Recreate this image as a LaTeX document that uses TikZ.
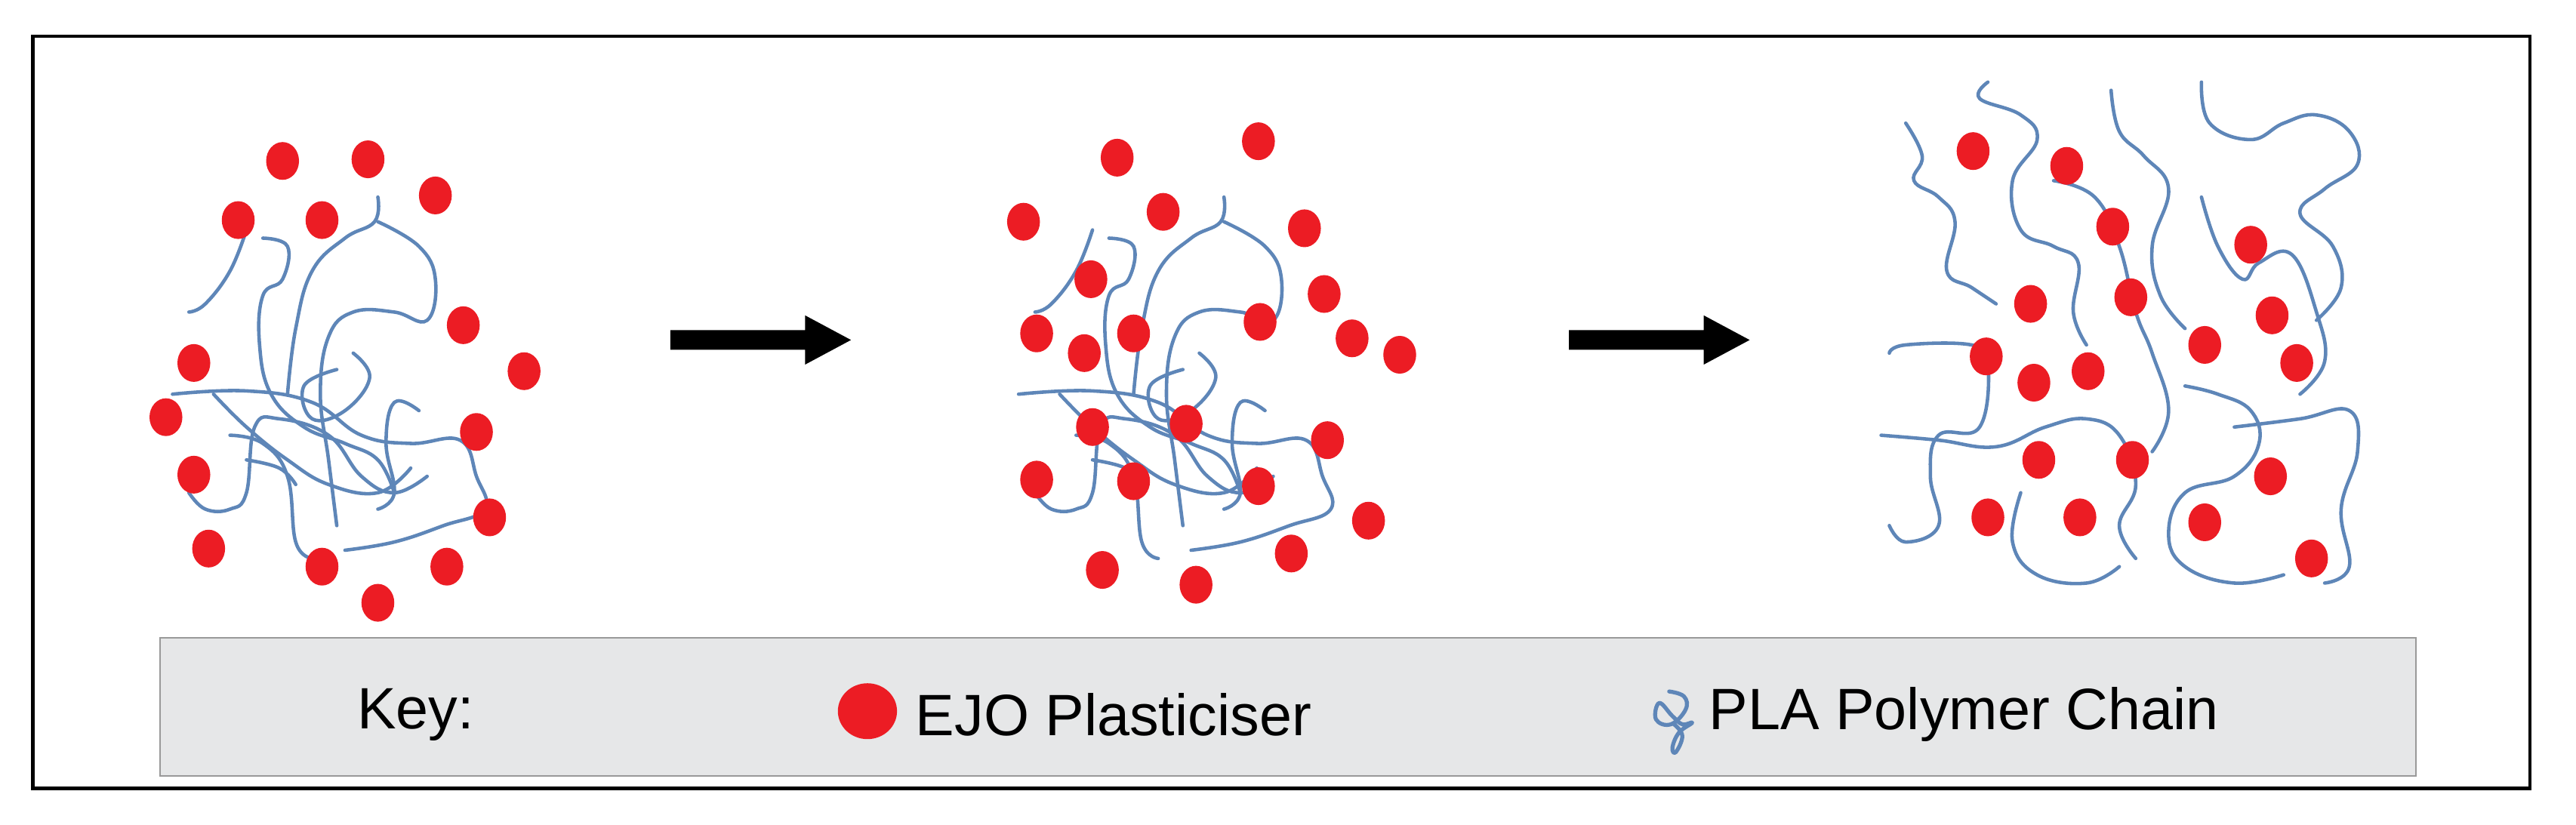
\documentclass[tikz,border=0pt]{standalone}
\usepackage{fontspec}
\setmainfont{Liberation Sans}
\begin{document}
\begin{tikzpicture}[x=0.02176cm,y=-0.02176cm,
  chain/.style={draw=chainblue,line width=1.3pt,line cap=round,line join=round},
  dot/.style={fill=dotred,draw=none},
  lbl/.style={font=\fontsize{22}{26}\selectfont,inner sep=0pt,text=black}]
\definecolor{chainblue}{HTML}{5E86B8}
\definecolor{dotred}{HTML}{EC1C24}
\definecolor{keygray}{HTML}{E6E7E8}
\useasboundingbox (0,0) rectangle (1568,502);
\fill[white] (0,0) rectangle (1568,502);
\draw[line width=1.3pt] (20,22) rectangle (1540,480);
\node[draw=gray!80,fill=keygray,line width=0.6pt,minimum width=1373*0.02176cm,minimum height=84*0.02176cm,inner sep=0pt,anchor=north west] (key) at (97,388) {};
% arrows
\fill (408,201) -- (490,201) -- (490,192) -- (518,207) -- (490,222) -- (490,213) -- (408,213) -- cycle;
\fill (955,201) -- (1037,201) -- (1037,192) -- (1065,207) -- (1037,222) -- (1037,213) -- (955,213) -- cycle;
\newcommand\tangleA{%
 \draw[chain] plot[smooth,tension=0.7] coordinates {(150,140)(140,165)(125,185)(115,190)};
 \draw[chain] plot[smooth,tension=0.7] coordinates {(160,145)(175,150)(172,170)(160,180)(158,210)(165,240)(185,260)(210,270)(230,280)(240,300)};
 \draw[chain] plot[smooth,tension=0.7] coordinates {(105,240)(150,238)(190,245)(220,265)(250,270)(280,268)(290,290)(295,310)(270,320)(240,330)(210,335)};
 \draw[chain] plot[smooth,tension=0.7] coordinates {(230,120)(228,135)(210,145)(190,165)(180,200)(175,240)};
 \draw[chain] plot[smooth,tension=0.7] coordinates {(230,135)(255,150)(265,170)(260,195)(240,190)(215,190)(200,205)(195,240)(200,280)(205,320)};
 \draw[chain] plot[smooth,tension=0.7] coordinates {(115,300)(125,310)(140,310)(150,300)(155,260)(170,255)(200,265)(220,290)(240,300)(260,290)};
 \draw[chain] plot[smooth,tension=0.7] coordinates {(140,265)(160,270)(175,290)(180,330)(190,340)};
 \draw[chain] plot[smooth,tension=0.7] coordinates {(255,250)(240,245)(235,270)(240,300)(230,310)};
 \draw[chain] plot[smooth,tension=0.7] coordinates {(130,240)(150,260)(175,280)(200,295)(230,300)(250,285)};
 \draw[chain] plot[smooth,tension=0.7] coordinates {(150,280)(170,285)(180,295)};
 \draw[chain] plot[smooth,tension=0.7] coordinates {(215,215)(225,230)(210,250)(190,255)(185,235)(205,225)};
}
\begin{scope}\tangleA\end{scope}
\begin{scope}[shift={(515,0)}]\tangleA\end{scope}
% cluster 3
\foreach \p in {
 {(1160,75)(1170,95)(1165,110)(1180,120)(1190,135)(1185,165)(1200,175)(1215,185)},
 {(1210,50)(1205,60)(1230,70)(1240,85)(1225,110)(1230,140)(1250,150)(1265,160)(1262,190)(1270,210)},
 {(1285,55)(1290,80)(1305,95)(1320,115)(1310,150)(1315,180)(1330,200)},
 {(1340,50)(1345,75)(1370,85)(1390,75)(1410,70)(1430,80)(1435,100)(1415,115)(1400,130)(1420,150)(1425,175)(1410,195)},
 {(1150,215)(1160,210)(1200,210)(1210,220)(1205,260)(1180,265)(1175,290)(1180,320)(1160,330)(1150,320)},
 {(1145,265)(1180,268)(1215,272)(1245,260)(1270,255)(1290,265)(1300,295)(1290,320)(1300,340)},
 {(1330,235)(1350,240)(1370,250)(1375,270)(1360,290)(1330,300)(1320,325)(1330,345)(1360,355)(1390,350)},
 {(1360,260)(1400,255)(1430,250)(1435,275)(1425,310)(1430,345)(1415,355)},
 {(1230,300)(1225,330)(1240,350)(1270,355)(1290,345)},
 {(1340,120)(1350,150)(1365,170)(1375,160)(1395,155)(1410,190)(1415,220)(1400,240)},
 {(1250,110)(1275,120)(1290,150)(1300,190)(1310,215)(1320,250)(1310,275)}}
 {\draw[chain] plot[smooth,tension=0.7] coordinates \p;}
% dots
\foreach \x/\y in {172/98,224/97,265/119,145/134,196/134,282/198,118/221,319/226,101/254,290/263,118/289,298/315,127/334,196/345,272/345,230/367,
 680/96,766/86,623/135,708/129,794/139,664/170,806/179,631/203,660/215,690/203,767/196,823/206,852/216,665/260,722/258,808/268,631/292,690/293,766/296,833/317,671/347,728/356,786/337,
 1201/92,1258/101,1286/138,1370/149,1236/185,1297/181,1383/192,1209/217,1238/233,1271/226,1342/210,1398/221,1241/280,1298/280,1382/290,1210/315,1266/315,1342/318,1407/340}
 {\fill[dot] (\x,\y) ellipse [x radius=10,y radius=11.5];}
% key
\node[lbl] (k) at (253,435) {Key:};
\fill[dot] (528,433) ellipse [x radius=18,y radius=17];
\node[lbl,anchor=west] (ejo) at (557,435) {EJO Plasticiser};
\draw[chain,line width=1.5pt] plot[smooth,tension=0.7] coordinates {(1016,421)(1025,424)(1026,432)(1017,441)(1008,438)(1010,428)(1018,436)(1024,441)(1030,440)(1022,446)(1018,455)(1020,458)(1024,448)(1019,441)};
\node[lbl,anchor=west] (pla) at (1040,435) {PLA Polymer Chain};
\end{tikzpicture}
\end{document}
